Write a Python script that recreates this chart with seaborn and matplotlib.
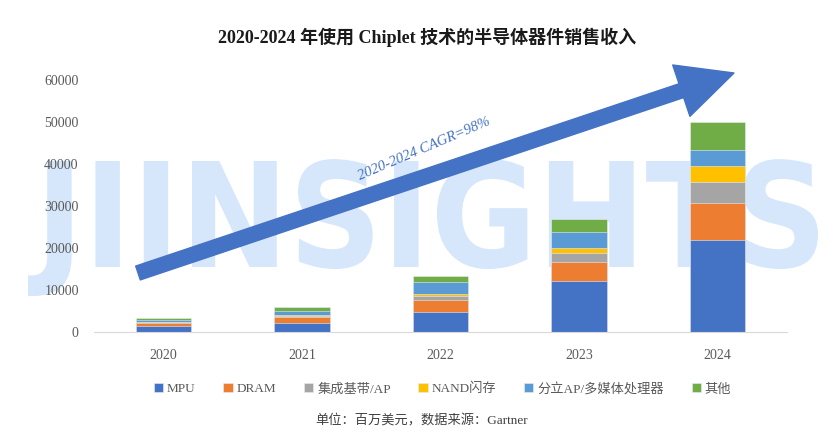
import seaborn as sns
import matplotlib.pyplot as plt
import pandas as pd
from matplotlib.textpath import TextPath
from matplotlib.patches import PathPatch
from matplotlib.font_manager import FontProperties
from matplotlib.transforms import Affine2D

years = ['2020', '2021', '2022', '2023', '2024']
series = ['MPU', 'DRAM', '集成基带/AP', 'NAND闪存', '分立AP/多媒体处理器', '其他']
mpu = [1350, 2150, 4800, 12250, 21900]
dram = [750, 1400, 2850, 4350, 8800]
baseband = [250, 350, 1000, 2200, 4900]
nand = [50, 100, 300, 1100, 4000]
discrete_ap = [400, 1000, 2850, 4000, 3700]
other = [500, 900, 1500, 3000, 6700]
colors = ['#4472C4', '#ED7D31', '#A5A5A5', '#FFC000', '#5B9BD5', '#70AD47']

df = pd.DataFrame({'Year': years, 'MPU': mpu, 'DRAM': dram, '集成基带/AP': baseband,
                   'NAND闪存': nand, '分立AP/多媒体处理器': discrete_ap, '其他': other})
cum = df[series].cumsum(axis=1)

sns.set_style('white')
serif_cjk = ['Liberation Serif', 'Noto Sans CJK SC', 'DejaVu Sans']
plt.rcParams['font.family'] = serif_cjk

W, H = 835, 436
fig = plt.figure(figsize=(8.35, 4.36), dpi=100)
ax = fig.add_axes([0.1126, 0.2385, 0.83, 0.578])
ax.set_facecolor('none')

# watermark, stretched to fit the box it fills in the reference
wm_prop = FontProperties(family='DejaVu Sans', weight='bold')
wm = TextPath((0, 0), 'JIINSIGHTS', size=100, prop=wm_prop)
cap = TextPath((0, 0), 'H', size=100, prop=wm_prop).get_extents().height
ext = wm.get_extents()
sx = (818 - 28) / W / ext.width
sy = (267 - 161) / H / cap
tr = Affine2D().translate(-ext.x0, 0).scale(sx, sy).translate(28 / W, 1 - 267 / H)
fig.add_artist(PathPatch(tr.transform_path(wm), facecolor='#d6e7fb', edgecolor='none',
                         transform=fig.transFigure, zorder=-5))

# stacked bars: draw cumulative totals from the top series down
for name, col in reversed(list(zip(series, colors))):
    sns.barplot(x=df['Year'], y=cum[name], color=col, width=0.4, ax=ax,
                label=name, edgecolor='#e8eef8', linewidth=0.4, saturation=1)

ax.set_ylim(0, 60000)
ax.set_yticks(range(0, 60001, 10000))
ax.set_xlabel('')
ax.set_ylabel('')
ax.tick_params(axis='both', length=0, labelsize=10, labelcolor='#595959')
ax.tick_params(axis='x', pad=12)
ax.tick_params(axis='y', pad=11)
for s in ['left', 'right', 'top']:
    ax.spines[s].set_visible(False)
ax.spines['bottom'].set_color('#d9d9d9')

handles, labels = ax.get_legend_handles_labels()
order = [labels.index(n) for n in series]
fig.legend([handles[i] for i in order], series, loc='center', bbox_to_anchor=(0.53, 0.108),
           ncol=6, frameon=False, handlelength=0.7, handleheight=0.7, handletextpad=0.3,
           columnspacing=2.1, prop={'family': serif_cjk, 'size': 9.5},
           labelcolor='#595959')
ax.legend_ = None

fig.text(0.512, 0.915, '2020-2024 年使用 Chiplet 技术的半导体器件销售收入', ha='center',
         va='center', fontsize=13, fontweight='bold', color='#1a1a1a')
fig.text(0.505, 0.034, '单位：百万美元，数据来源：Gartner', ha='center', va='center',
         fontsize=9.5, color='#404040')

# growth arrow
ax.annotate('', xy=(734 / W, 1 - 73 / H), xytext=(138 / W, 1 - 273 / H),
            xycoords='figure fraction', textcoords='figure fraction',
            arrowprops=dict(arrowstyle='simple,head_length=4.0,head_width=3.9,tail_width=1.05',
                            color='#4472C4', shrinkA=0, shrinkB=0, mutation_scale=10))
fig.text(424 / W, 1 - 149 / H, '2020-2024 CAGR=98%', ha='center', va='center',
         rotation=23, fontsize=10.5, style='italic', color='#4472C4')

plt.savefig('out.png', dpi=100)
